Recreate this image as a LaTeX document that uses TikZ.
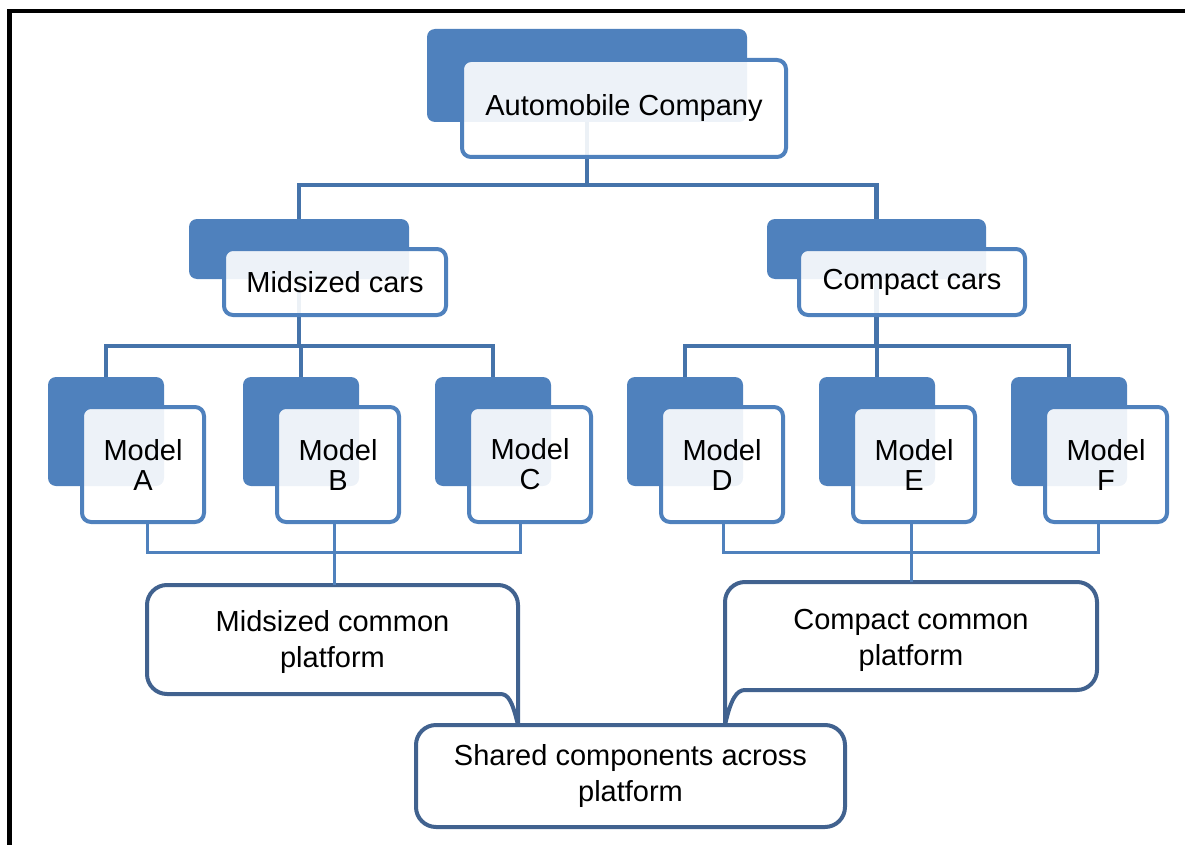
\documentclass[tikz,border=0pt]{standalone}
\usepackage{fontspec}
\setmainfont{Liberation Sans}
\usetikzlibrary{calc}
\definecolor{boxblue}{HTML}{4F81BD}
\definecolor{linkblue}{HTML}{4573AA}
\definecolor{platblue}{HTML}{41628F}

\begin{document}
\begin{tikzpicture}[x=1pt,y=-1pt,
  back/.style={fill=boxblue, rounded corners=8pt, inner sep=0pt},
  front/.style={draw=boxblue, line width=4pt, fill=white, fill opacity=0.9,
    text opacity=1, rounded corners=9pt, inner sep=0pt, align=center,
    font=\fontsize{29}{30}\selectfont},
  link/.style={draw=linkblue, line width=4.5pt},
  sublink/.style={draw=boxblue, line width=3pt},
  plat/.style={draw=platblue, line width=4pt, fill=white, line join=round},
  plattext/.style={inner sep=0pt, align=center, font=\fontsize{29}{36}\selectfont}
]
\useasboundingbox (0,0) rectangle (1185,845);

% page frame (top and left edges)
\draw[line width=4.5pt, black] (9.5,845) -- (9.5,11) -- (1185,11);

% solid back plates
\node[back, minimum width=320pt, minimum height=93pt] (topb) at (587,75.5) {};
\node[back, minimum width=220pt, minimum height=60pt] (midb) at (299,249) {};
\node[back, minimum width=219pt, minimum height=60pt] (cmpb) at (876.5,249) {};
\foreach \n/\x in {A/48,B/243,C/435,D/627,E/819,F/1011}
  \node[back, minimum width=116pt, minimum height=109pt] (b\n) at (\x+58,431.5) {};

% hierarchy connectors
\coordinate (j1) at (587,185);
\draw[link] (topb.south) -- (j1);
\draw[link] (midb.north) |- (j1) -| (cmpb.north);

\coordinate (j2) at (299,346);
\draw[link] (midb.south) -- (j2);
\draw[link] (bA.north) |- (j2) -| (bC.north);
\draw[link] (bB.north) -- (bB.north |- j2);

\coordinate (j3) at (876.5,346);
\draw[link] (cmpb.south) -- (j3);
\draw[link] (bD.north) |- (j3) -| (bF.north);
\draw[link] (bE.north) -- (bE.north |- j3);

% front labels
\node[front, minimum width=324pt, minimum height=97pt] (top) at (624,108.5) {Automobile Company};
\node[front, minimum width=222pt, minimum height=66pt] (mid) at (335,282) {Midsized cars};
\node[front, minimum width=226pt, minimum height=66pt] (cmp) at (912,282) {Compact cars};
\foreach \n/\x in {A/48,B/243,C/435,D/627,E/819,F/1011}
  \node[front, minimum width=122pt, minimum height=115pt] (m\n) at (\x+95,464.5) {Model\\\n};

% platform callouts
\draw[plat] (167,585) -- (498,585) arc[start angle=270,end angle=360,radius=20]
  -- (518,725) .. controls (512,700) and (508,694) .. (500,694)
  -- (167,694) arc[start angle=90,end angle=180,radius=20]
  -- (147,605) arc[start angle=180,end angle=270,radius=20] -- cycle;
\node[plattext, minimum width=371pt, minimum height=113pt] (mplat) at (332.5,641.5)
  {Midsized common\\platform};

\draw[plat] (745,582) -- (1077,582) arc[start angle=270,end angle=360,radius=20]
  -- (1097,670) arc[start angle=0,end angle=90,radius=20]
  -- (745,690) .. controls (737,690) and (731,698) .. (725,725)
  -- (725,602) arc[start angle=180,end angle=270,radius=20] -- cycle;
\node[plattext, minimum width=372pt, minimum height=116pt] (cplat) at (911,640)
  {Compact common\\platform};

% model-to-platform connectors
\coordinate (j4) at (334,552);
\draw[sublink] ($(mA.south)+(4,0)$) |- (j4) -| ($(mC.south)+(-10,0)$);
\draw[sublink] (mB.south -| j4) -- (j4) -- (j4 |- mplat.north);

\coordinate (j5) at (911,552);
\draw[sublink] ($(mD.south)+(1,0)$) |- (j5) -| ($(mF.south)+(-8,0)$);
\draw[sublink] (mE.south -| j5) -- (j5) -- (j5 |- cplat.north);

% shared components box
\node[plattext, draw=platblue, line width=4pt, fill=white, rounded corners=20pt,
  minimum width=429pt, minimum height=102pt] (shared) at (630.5,776)
  {Shared components across\\platform};
\end{tikzpicture}
\end{document}
